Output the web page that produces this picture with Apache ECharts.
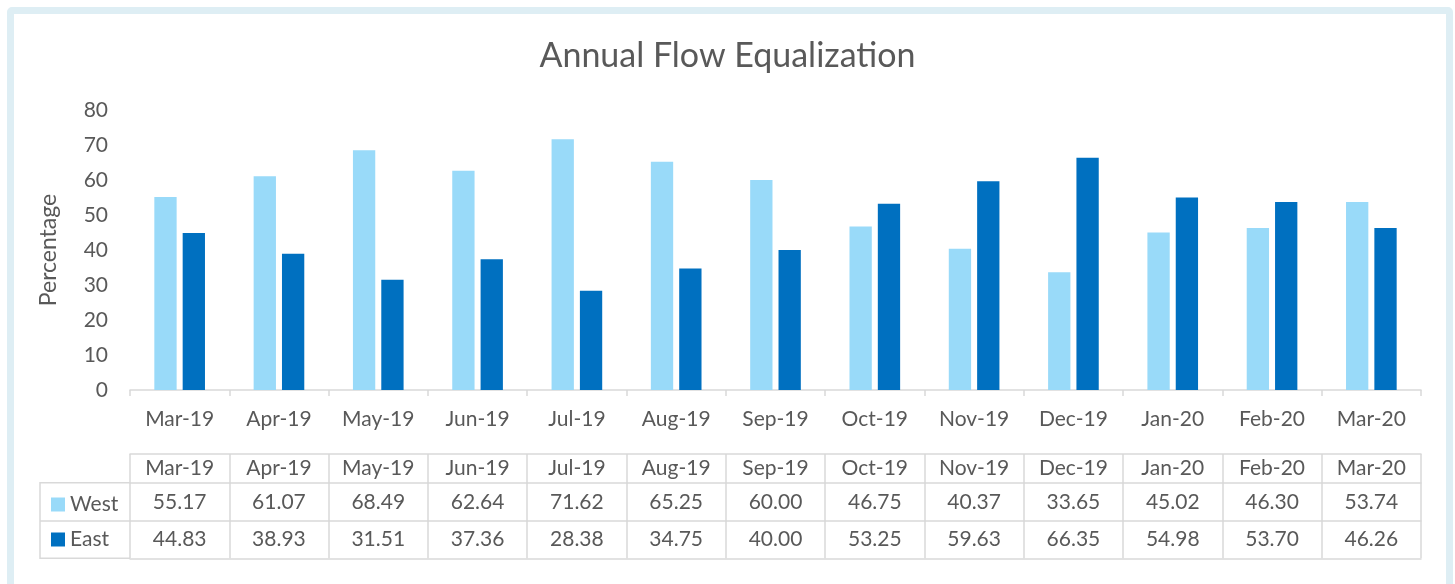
<!DOCTYPE html>
<html>
<head>
<meta charset="utf-8">
<script src="https://cdn.jsdelivr.net/npm/echarts@6/dist/echarts.min.js"></script>
<style>
  html, body { margin: 0; padding: 0; background: #ffffff; }
  #frame {
    position: absolute; left: 7px; top: 7px;
    width: 1432px; height: 620px;
    border: 7px solid #deeef4; border-radius: 5px;
  }
  #chart { position: absolute; left: 0; top: 0; width: 1455px; height: 584px; }
</style>
</head>
<body>
<div id="frame"></div>
<div id="chart"></div>
<script>
const months = ['Mar-19', 'Apr-19', 'May-19', 'Jun-19', 'Jul-19', 'Aug-19', 'Sep-19',
  'Oct-19', 'Nov-19', 'Dec-19', 'Jan-20', 'Feb-20', 'Mar-20']
const westValues = [55.17, 61.07, 68.49, 62.64, 71.62, 65.25, 60.00, 46.75, 40.37, 33.65, 45.02, 46.30, 53.74]
const eastValues = [44.83, 38.93, 31.51, 37.36, 28.38, 34.75, 40.00, 53.25, 59.63, 66.35, 54.98, 53.70, 46.26]
const yTicks = [0, 10, 20, 30, 40, 50, 60, 70, 80]

const textColor = '#595959'
const lineColor = '#d9d9d9'
const font = 'Lato, "Open Sans", sans-serif'
const fs = 21

// plot area
const gLeft = 130, gRight = 1421, gTop = 110, gBottom = 390
// table rows (y of horizontal lines)
const rowHead = 454, rowWest = 482.7, rowEast = 521, rowEnd = 558.3

const chart = echarts.init(document.getElementById('chart'), null, { renderer: 'canvas' })

// extra category axes used as table rows
function tableAxis(y, values, margin) {
  return {
    type: 'category',
    data: values,
    position: 'bottom',
    offset: y - gBottom,
    axisLine: { show: true, lineStyle: { color: lineColor, width: 1.5 } },
    axisTick: { show: false },
    axisLabel: { show: true, interval: 0, margin, fontSize: fs, color: textColor, fontFamily: font }
  }
}

const option = {
  backgroundColor: 'transparent',
  animation: false,
  title: {
    text: 'Annual Flow Equalization',
    left: 'center',
    top: 34,
    textStyle: { fontSize: 34, fontWeight: 'normal', color: textColor, fontFamily: font }
  },
  legend: {
    orient: 'vertical',
    left: 46,
    top: 489,
    itemWidth: 14,
    itemHeight: 14,
    itemGap: 14,
    icon: 'rect',
    selectedMode: false,
    textStyle: { fontSize: fs, color: textColor, fontFamily: font },
    data: ['West', 'East']
  },
  grid: {
    left: gLeft,
    right: 1455 - gRight,
    top: gTop,
    bottom: 584 - gBottom
  },
  xAxis: [
    {
      type: 'category',
      data: months,
      axisLine: { lineStyle: { color: lineColor, width: 1.5 } },
      axisTick: { show: true, length: 6, lineStyle: { color: lineColor, width: 1.5 } },
      axisLabel: { interval: 0, margin: 19, fontSize: fs, color: textColor, fontFamily: font }
    },
    tableAxis(rowHead, months, 4),
    tableAxis(rowWest, westValues.map(v => v.toFixed(2)), 9),
    tableAxis(rowEast, eastValues.map(v => v.toFixed(2)), 8),
    {
      type: 'category',
      data: months,
      position: 'bottom',
      offset: rowEnd - gBottom,
      axisLine: { lineStyle: { color: lineColor, width: 1.5 } },
      axisTick: { show: true, inside: true, length: rowEnd - rowHead, lineStyle: { color: lineColor, width: 1.5 } },
      axisLabel: { show: false }
    }
  ],
  yAxis: {
    type: 'value',
    min: yTicks[0],
    max: yTicks[yTicks.length - 1],
    interval: 10,
    name: 'Percentage',
    nameLocation: 'middle',
    nameGap: 70,
    nameRotate: 90,
    nameTextStyle: { fontSize: 23, color: textColor, fontFamily: font },
    axisLine: { show: false },
    axisTick: { show: false },
    splitLine: { show: false },
    axisLabel: { margin: 22, fontSize: fs, color: textColor, fontFamily: font }
  },
  graphic: [
    {
      type: 'polyline',
      silent: true,
      shape: { points: [[gLeft, rowWest], [40, rowWest], [40, rowEnd], [gLeft, rowEnd]] },
      style: { stroke: lineColor, lineWidth: 1.5, fill: null }
    },
    {
      type: 'line',
      silent: true,
      shape: { x1: 40, y1: rowEast, x2: gLeft, y2: rowEast },
      style: { stroke: lineColor, lineWidth: 1.5 }
    }
  ],
  series: [
    {
      name: 'West',
      type: 'bar',
      data: westValues,
      barGap: '27%',
      barCategoryGap: '49%',
      itemStyle: { color: '#99daf9' }
    },
    {
      name: 'East',
      type: 'bar',
      data: eastValues,
      itemStyle: { color: '#0070c0' }
    }
  ]
}

chart.setOption(option)
</script>
</body>
</html>
